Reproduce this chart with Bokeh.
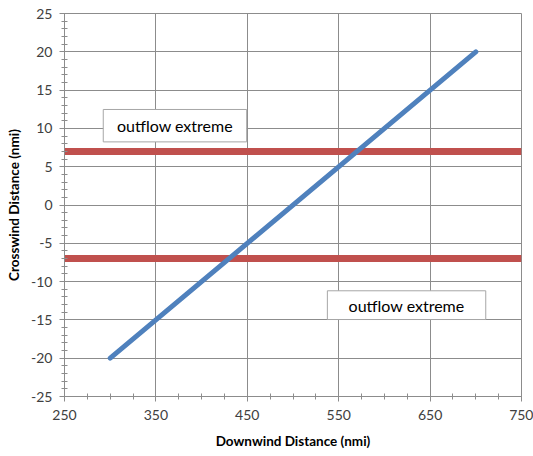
from bokeh.plotting import figure
from bokeh.models import FixedTicker, Range1d
from bokeh.embed import file_html
from bokeh.resources import INLINE

# Track of the storm centre (downwind vs crosswind distance)
downwind = [300, 700]
crosswind = [-20, 20]

# Outflow limits on either side of the track
outflow_levels = [7, -7]
outflow_span = [250, 750]
outflow_label = "outflow extreme"

x_major = [250, 350, 450, 550, 650, 750]
y_major = list(range(-25, 26, 5))

FONT = "Lato"
GRID = "#8c8c8c"
TEXT = "#404040"

p = figure(width=533, height=456, output_backend="svg", toolbar_location=None,
           x_range=Range1d(250, 750), y_range=Range1d(-25, 25),
           min_border_left=64, min_border_right=12, min_border_top=13,
           min_border_bottom=60)
p.outline_line_color = GRID
p.background_fill_color = "white"
p.border_fill_color = "white"

p.xaxis.ticker = FixedTicker(ticks=x_major, minor_ticks=list(range(250, 751, 25)))
p.yaxis.ticker = FixedTicker(ticks=y_major, minor_ticks=list(range(-25, 26)))
p.yaxis.major_label_overrides = {v: str(v) for v in y_major}

for ax in (p.xaxis[0], p.yaxis[0]):
    ax.axis_line_color = GRID
    ax.major_tick_line_color = GRID
    ax.minor_tick_line_color = GRID
    ax.major_tick_out = 5
    ax.major_tick_in = 0
    ax.minor_tick_out = 3
    ax.minor_tick_in = 3
    ax.major_label_text_font = FONT
    ax.major_label_text_font_size = "14px"
    ax.major_label_text_color = TEXT
    ax.axis_label_text_font = FONT
    ax.axis_label_text_font_size = "13.5px"
    ax.axis_label_text_font_style = "bold"
    ax.axis_label_text_color = "#000000"

p.xaxis.axis_label = "Downwind Distance (nmi)"
p.yaxis.axis_label = "Crosswind Distance (nmi)"
p.xaxis.major_label_standoff = 8
p.yaxis.major_label_standoff = 7
p.xaxis.axis_label_standoff = 10
p.yaxis.axis_label_standoff = 6

p.xgrid.ticker = FixedTicker(ticks=x_major)
p.ygrid.ticker = FixedTicker(ticks=y_major)
p.grid.grid_line_color = GRID
p.grid.grid_line_width = 1

# outflow limit lines
for lvl in outflow_levels:
    p.line(outflow_span, [lvl, lvl], line_color="#C0504D", line_width=7)

# storm track
p.line(downwind, crosswind, line_color="#4F81BD", line_width=5, line_cap="round")

# label boxes
boxes = [
    dict(left=292.4, right=449.3, top=12.47, bottom=8.24),
    dict(left=537.6, right=710.9, top=-11.2, bottom=-14.95),
]
for b in boxes:
    p.quad(left=b["left"], right=b["right"], top=b["top"], bottom=b["bottom"],
           fill_color="white", line_color="#a6a6a6", line_width=1)
    p.text(x=[(b["left"] + b["right"]) / 2], y=[(b["top"] + b["bottom"]) / 2],
           text=[outflow_label], text_align="center", text_baseline="middle",
           text_font={"value": FONT}, text_font_size="16px", text_color="#000000")

open("out.html", "w").write(file_html(p, INLINE))
